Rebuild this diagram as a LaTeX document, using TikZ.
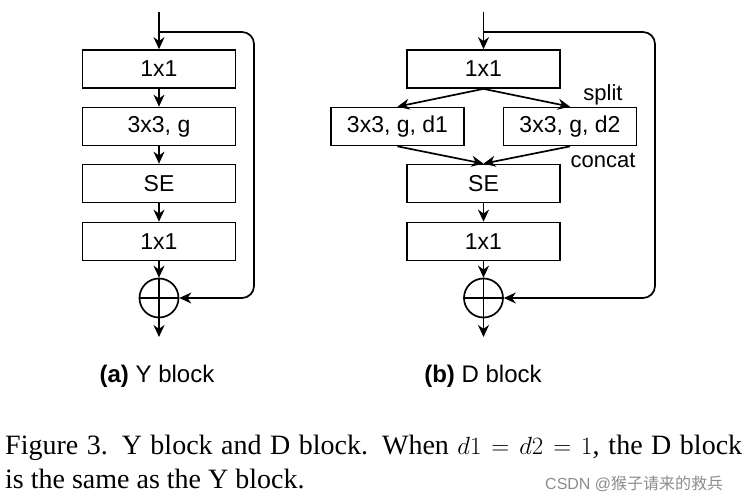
\documentclass[tikz,border=0pt]{standalone}
\usepackage{fontspec}
\setmainfont{Liberation Serif}
\setsansfont{Liberation Sans}
\newfontfamily\cjkfont{Noto Sans CJK SC}
\usetikzlibrary{arrows.meta}
\tikzset{
  layer/.style={draw,line width=1.7pt,minimum width=153pt,minimum height=38pt,
    inner sep=0pt,font=\sffamily\fontsize{23}{27}\selectfont},
  branch/.style={layer,minimum width=133pt},
  flow/.style={line width=1.7pt,-{Stealth[length=12pt,width=11pt]}},
  addop/.style={draw,circle,line width=1.7pt,minimum size=39pt,inner sep=0pt},
  sublabel/.style={font=\sffamily\fontsize{24}{28}\selectfont},
  sidelabel/.style={font=\sffamily\fontsize{22}{26}\selectfont},
}
\begin{document}
\begin{tikzpicture}[x=1pt,y=-1pt]
    \useasboundingbox (0,0) rectangle (748,502);
    % Y block
    \begin{scope}
      \coordinate (inA) at (159,12);
      \coordinate (forkA) at (159,32);
      \node[layer] (a1) at (159,69) {1x1};
      \node[layer] (a2) at (159,126.5) {3x3, g};
      \node[layer] (a3) at (159,183.5) {SE};
      \node[layer] (a4) at (159,241.5) {1x1};
      \node[addop] (addA) at (159,298) {};
      \draw[line width=1.7pt] (addA.north) -- (addA.south) (addA.west) -- (addA.east);
      \coordinate (outA) at (159,337);
      \coordinate (skipA) at (254,298);
      \draw[flow] (inA) -- (a1);
      \draw[flow] (a1) -- (a2);
      \draw[flow] (a2) -- (a3);
      \draw[flow] (a3) -- (a4);
      \draw[flow] (a4) -- (addA);
      \draw[flow] (addA) -- (outA);
      \draw[flow,rounded corners=12pt] (forkA) -| (skipA) -- (addA);
      \node[sublabel] (capA) at (157,376) {\textbf{(a)} Y block};
    \end{scope}
    % D block
    \begin{scope}
      \coordinate (inB) at (483.5,12);
      \coordinate (forkB) at (483.5,32);
      \node[layer] (b1) at (483.5,69) {1x1};
      \node[branch] (b2l) at (397.5,126.5) {3x3, g, d1};
      \node[branch] (b2r) at (570,126.5) {3x3, g, d2};
      \node[layer] (b3) at (483.5,183.5) {SE};
      \node[layer] (b4) at (483.5,241.5) {1x1};
      \node[addop] (addB) at (483.5,298) {};
      \draw[line width=1.7pt] (addB.north) -- (addB.south) (addB.west) -- (addB.east);
      \coordinate (outB) at (483.5,337);
      \coordinate (skipB) at (655,298);
      \draw[flow] (inB) -- (b1);
      \draw[flow] (b1.south) -- (b2l.north);
      \draw[flow] (b1.south) -- (b2r.north);
      \draw[flow] (b2l.south) -- (b3.north);
      \draw[flow] (b2r.south) -- (b3.north);
      \draw[flow] (b3) -- (b4);
      \draw[flow] (b4) -- (addB);
      \draw[flow] (addB) -- (outB);
      \draw[flow,rounded corners=12pt] (forkB) -| (skipB) -- (addB);
      \node[sidelabel] (split) at (603,95) {split};
      \node[sidelabel] (concat) at (603,161) {concat};
      \node[sublabel] (capB) at (483,376) {\textbf{(b)} D block};
    \end{scope}
    % caption
    \node[anchor=base west,inner sep=0pt,font=\fontsize{28}{32}\selectfont] (line1) at (5,455)
      {\makebox[737pt][s]{Figure 3. Y block and D block. When $d1 = d2 = 1$, the D block}};
    \node[anchor=base west,inner sep=0pt,font=\fontsize{28}{32}\selectfont] (line2) at (5,489)
      {is the same as the Y block.};
    \node[anchor=west,inner sep=0pt,text=black!45,font=\fontsize{16}{18}\selectfont] (mark) at (545,484)
      {\sffamily CSDN @\cjkfont 猴子请来的救兵};
\end{tikzpicture}
\end{document}
